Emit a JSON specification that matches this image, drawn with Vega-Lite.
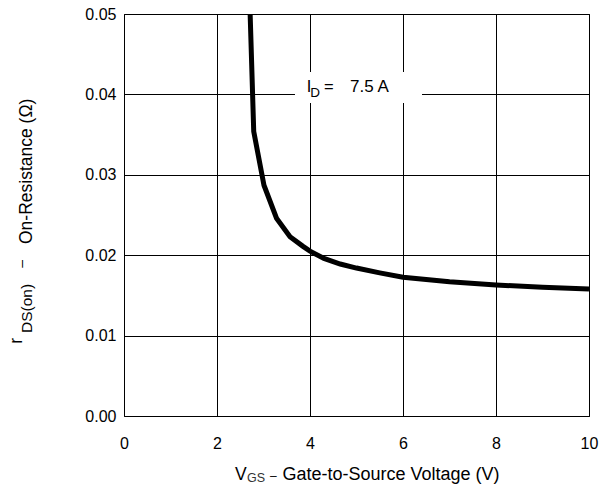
{
  "$schema": "https://vega.github.io/schema/vega-lite/v6.json",
  "autosize": {"type": "none"},
  "padding": {"left": 124, "top": 14, "right": 23, "bottom": 74},
  "width": 465,
  "height": 402,
  "background": "white",
  "config": {
    "view": {"stroke": "black", "strokeWidth": 1},
    "font": "Liberation Sans",
    "text": {"font": "Liberation Sans", "color": "black", "align": "left", "baseline": "alphabetic"},
    "axis": {
      "grid": true, "gridColor": "black", "gridOpacity": 1, "gridWidth": 1,
      "domain": false, "ticks": false, "labelColor": "black",
      "labelFont": "Liberation Sans", "labelFontSize": 16, "title": null
    }
  },
  "layer": [
    {
      "data": {"values": [{}]},
      "mark": {"type": "rect", "fill": "white", "stroke": null},
      "encoding": {
        "x": {"datum": 3.677, "type": "quantitative", "scale": {"domain": [0, 10], "nice": false},
          "axis": {"values": [0, 2, 4, 6, 8, 10], "labelPadding": 19, "labelFlush": false}},
        "x2": {"datum": 6.409},
        "y": {"datum": 0.04279, "type": "quantitative", "scale": {"domain": [0, 0.05], "nice": false, "zero": false},
          "axis": {"values": [0, 0.01, 0.02, 0.03, 0.04, 0.05], "format": ".2f", "labelPadding": 8, "labelFlush": false}},
        "y2": {"datum": 0.03893}
      }
    },
    {
      "data": {"values": [
        {"vgs": 2.71, "r": 0.0505},
        {"vgs": 2.79, "r": 0.0354},
        {"vgs": 3.01, "r": 0.0287},
        {"vgs": 3.28, "r": 0.0246},
        {"vgs": 3.57, "r": 0.0223},
        {"vgs": 3.85, "r": 0.0211},
        {"vgs": 4.0, "r": 0.0205},
        {"vgs": 4.3, "r": 0.0196},
        {"vgs": 4.65, "r": 0.0189},
        {"vgs": 5.0, "r": 0.0184},
        {"vgs": 5.5, "r": 0.0178},
        {"vgs": 6.0, "r": 0.01725},
        {"vgs": 7.0, "r": 0.0167},
        {"vgs": 8.0, "r": 0.0163},
        {"vgs": 9.0, "r": 0.0160},
        {"vgs": 10.0, "r": 0.0158}
      ]},
      "mark": {"type": "line", "color": "black", "strokeWidth": 5, "clip": true, "strokeJoin": "miter"},
      "encoding": {
        "x": {"field": "vgs", "type": "quantitative"},
        "y": {"field": "r", "type": "quantitative"}
      }
    },
    {
      "data": {"values": [{}]},
      "mark": {"type": "text", "text": "I", "fontSize": 16.5},
      "encoding": {"x": {"datum": 3.931, "type": "quantitative"}, "y": {"datum": 0.04026, "type": "quantitative"}}
    },
    {
      "data": {"values": [{}]},
      "mark": {"type": "text", "text": "D", "fontSize": 13.5},
      "encoding": {"x": {"datum": 4.005, "type": "quantitative"}, "y": {"datum": 0.03971, "type": "quantitative"}}
    },
    {
      "data": {"values": [{}]},
      "mark": {"type": "text", "text": "=", "fontSize": 16.5},
      "encoding": {"x": {"datum": 4.3, "type": "quantitative"}, "y": {"datum": 0.04026, "type": "quantitative"}}
    },
    {
      "data": {"values": [{}]},
      "mark": {"type": "text", "text": "7.5 A", "fontSize": 17},
      "encoding": {"x": {"datum": 4.86, "type": "quantitative"}, "y": {"datum": 0.04026, "type": "quantitative"}}
    },
    {
      "data": {"values": [{}]},
      "mark": {"type": "text", "text": "V", "fontSize": 17.5},
      "encoding": {"x": {"datum": 2.387, "type": "quantitative"}, "y": {"datum": -0.00796, "type": "quantitative"}}
    },
    {
      "data": {"values": [{}]},
      "mark": {"type": "text", "text": "GS", "fontSize": 12.5, "color": "#333333"},
      "encoding": {"x": {"datum": 2.647, "type": "quantitative"}, "y": {"datum": -0.00825, "type": "quantitative"}}
    },
    {
      "data": {"values": [{}]},
      "mark": {"type": "text", "text": "–", "fontSize": 12},
      "encoding": {"x": {"datum": 3.14, "type": "quantitative"}, "y": {"datum": -0.00796, "type": "quantitative"}}
    },
    {
      "data": {"values": [{}]},
      "mark": {"type": "text", "text": "Gate-to-Source Voltage (V)", "fontSize": 18},
      "encoding": {"x": {"datum": 3.406, "type": "quantitative"}, "y": {"datum": -0.00796, "type": "quantitative"}}
    },
    {
      "data": {"values": [{}]},
      "mark": {"type": "text", "text": "r", "fontSize": 17.5, "angle": 270},
      "encoding": {"x": {"datum": -2.204, "type": "quantitative"}, "y": {"datum": 0.009, "type": "quantitative"}}
    },
    {
      "data": {"values": [{}]},
      "mark": {"type": "text", "text": "DS(on)", "fontSize": 15.5, "angle": 270},
      "encoding": {"x": {"datum": -1.972, "type": "quantitative"}, "y": {"datum": 0.010323, "type": "quantitative"}}
    },
    {
      "data": {"values": [{}]},
      "mark": {"type": "text", "text": "–", "fontSize": 14, "angle": 270},
      "encoding": {"x": {"datum": -2.11, "type": "quantitative"}, "y": {"datum": 0.018445, "type": "quantitative"}}
    },
    {
      "data": {"values": [{}]},
      "mark": {"type": "text", "text": "On-Resistance (Ω)", "fontSize": 17.5, "angle": 270},
      "encoding": {"x": {"datum": -1.972, "type": "quantitative"}, "y": {"datum": 0.021393, "type": "quantitative"}}
    }
  ]
}
